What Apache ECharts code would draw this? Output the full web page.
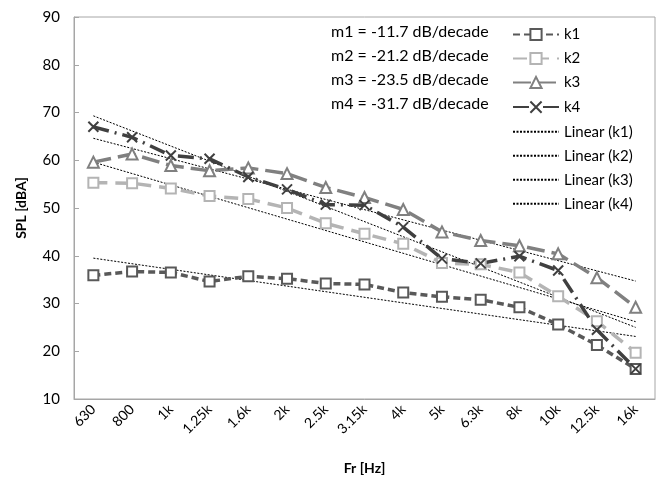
<!DOCTYPE html>
<html>
<head>
<meta charset="utf-8">
<script src="https://cdn.jsdelivr.net/npm/echarts@6/dist/echarts.min.js"></script>
<style>html,body{margin:0;padding:0;background:#fff}#c{width:661px;height:480px}</style>
</head>
<body>
<div id="c"></div>
<script>
const categories = ['630','800','1k','1.25k','1.6k','2k','2.5k','3.15k','4k','5k','6.3k','8k','10k','12.5k','16k'];
const k1 = [35.9,36.7,36.5,34.6,35.7,35.2,34.2,34.0,32.3,31.4,30.8,29.2,25.6,21.3,16.3];
const k2 = [55.3,55.2,54.1,52.5,51.9,50.0,46.8,44.6,42.5,38.5,38.2,36.5,31.5,26.3,19.7];
const k3 = [59.6,61.3,58.9,57.8,58.4,57.2,54.3,52.2,49.7,45.0,43.2,42.1,40.4,35.4,29.2];
const k4 = [67.0,64.8,61.0,60.3,56.5,53.9,50.7,50.6,46.0,39.4,38.4,39.9,36.9,24.5,16.3];
// linear trendline end values (at 630 and 16k)
const trendStart = [39.5,59.6,64.6,69.3];
const trendEnd = [23.1,26.2,34.7,25.0];
const slopeLabels = ['m1 = -11.7 dB/decade','m2 = -21.2 dB/decade','m3 = -23.5 dB/decade','m4 = -31.7 dB/decade'];
const yTicks = [10,90,10];

const FONT = 'Lato';
const chart = echarts.init(document.getElementById('c'));
const xMark = 'path://M0,0L10,10M10,0L0,10';
function trend(i){
  return {
    name:'Linear (k'+(i+1)+')', type:'line', symbol:'none', silent:true,
    data:[[categories[0],trendStart[i]],[categories[categories.length-1],trendEnd[i]]],
    itemStyle:{color:'rgba(0,0,0,0)',borderColor:'rgba(0,0,0,0)',borderWidth:0},
    lineStyle:{color:'#000',width:1,type:[2,1.5]}, z:1
  };
}
const series = [
  {name:'k1',type:'line',data:k1,symbol:'rect',symbolSize:10,
   lineStyle:{color:'#595959',width:3.5,type:[7,4]},
   itemStyle:{color:'#fff',borderColor:'#595959',borderWidth:2}},
  {name:'k2',type:'line',data:k2,symbol:'rect',symbolSize:10,
   lineStyle:{color:'#b4b4b4',width:3.5,type:[14,8]},
   itemStyle:{color:'#fff',borderColor:'#b4b4b4',borderWidth:2}},
  {name:'k3',type:'line',data:k3,symbol:'triangle',symbolSize:11,
   lineStyle:{color:'#808080',width:3.5,type:[18,7]},
   itemStyle:{color:'#fff',borderColor:'#808080',borderWidth:2}},
  {name:'k4',type:'line',data:k4,symbol:xMark,symbolSize:10,
   lineStyle:{color:'#404040',width:3.5,type:[16,6,2,6]},
   itemStyle:{color:'none',borderColor:'#404040',borderWidth:2}},
  trend(0),trend(1),trend(2),trend(3)
];
const graphics = slopeLabels.map((t,i)=>({
  type:'text', left:331, top:24+i*24,
  style:{text:t, font:'16px '+FONT, fill:'#000'}
}));
chart.setOption({
  animation:false,
  backgroundColor:'#fff',
  grid:{left:74,top:17,right:6,bottom:81,show:true,borderColor:'#a6a6a6',borderWidth:1,containLabel:false},
  legend:{
    orient:'vertical', left:507, top:22, itemWidth:46, itemHeight:14, itemGap:9,
    textStyle:{fontFamily:FONT,fontSize:15,color:'#000'},
    data:['k1','k2','k3','k4','Linear (k1)','Linear (k2)','Linear (k3)','Linear (k4)']
  },
  xAxis:{
    type:'category', data:categories, boundaryGap:true,
    name:'Fr [Hz]', nameLocation:'middle', nameGap:62,
    nameTextStyle:{fontFamily:FONT,fontSize:14,fontWeight:'bold',color:'#000'},
    axisLine:{lineStyle:{color:'#a6a6a6'}},
    axisTick:{alignWithLabel:true,inside:true,length:5,lineStyle:{color:'#a6a6a6'}},
    axisLabel:{rotate:45,fontFamily:FONT,fontSize:14,color:'#000',margin:8},
    splitLine:{show:false}
  },
  yAxis:{
    type:'value', min:yTicks[0], max:yTicks[1], interval:yTicks[2],
    name:'SPL [dBA]', nameLocation:'middle', nameGap:46, nameRotate:90,
    nameTextStyle:{fontFamily:FONT,fontSize:14,fontWeight:'bold',color:'#000'},
    axisLine:{show:true,lineStyle:{color:'#a6a6a6'}},
    axisTick:{show:true,inside:true,length:5,lineStyle:{color:'#a6a6a6'}},
    axisLabel:{fontFamily:FONT,fontSize:15,color:'#000',margin:14},
    splitLine:{show:false}
  },
  graphic:graphics,
  series:series
});
</script>
</body>
</html>
